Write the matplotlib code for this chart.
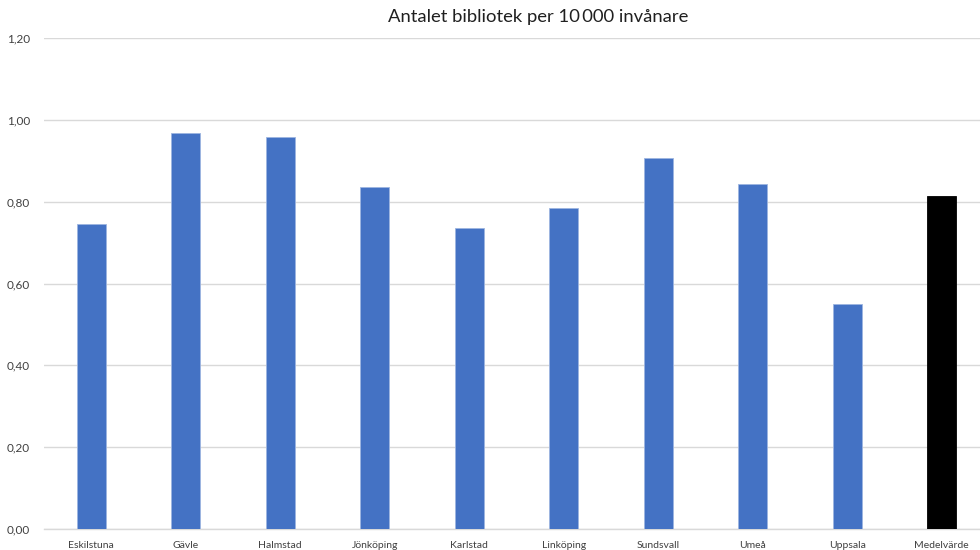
import numpy as np
from matplotlib import pyplot as plt

# data
kommuner = ["Eskilstuna", "Gävle", "Halmstad", "Jönköping", "Karlstad",
            "Linköping", "Sundsvall", "Umeå", "Uppsala", "Medelvärde"]
bibliotek_per_10k = [0.745, 0.969, 0.957, 0.836, 0.736,
                     0.785, 0.907, 0.842, 0.550, 0.815]
y_ticks = [0.0, 0.2, 0.4, 0.6, 0.8, 1.0, 1.2]
y_ticklabels = ["0,00", "0,20", "0,40", "0,60", "0,80", "1,00", "1,20"]

plt.rcParams['font.family'] = ['Lato', 'DejaVu Sans']

fig = plt.figure(figsize=(9.8, 5.5), dpi=100)
# axis runs a bit past the right edge, as in the reference
ax = fig.add_axes([44 / 980, 1 - 529 / 550, 945 / 980, 491 / 550])

colors = ["#4472C4"] * (len(kommuner) - 1) + ["#000000"]
x = np.arange(len(kommuner))
ax.bar(x, bibliotek_per_10k, width=0.31, color=colors,
       edgecolor=["#9DB5E0"] * (len(kommuner) - 1) + ["#000000"], linewidth=0.6,
       zorder=3)

ax.set_xlim(-0.5, len(kommuner) - 0.5)
ax.set_ylim(0, 1.2)
ax.set_yticks(y_ticks)
ax.set_yticklabels(y_ticklabels)
ax.set_xticks(x)
ax.set_xticklabels(kommuner)

ax.grid(axis="y", color="#D9D9D9", linewidth=1.0, zorder=0)
for side in ["top", "right", "left"]:
    ax.spines[side].set_visible(False)
ax.spines["bottom"].set_color("#D9D9D9")
ax.spines["bottom"].set_linewidth(1.0)
ax.tick_params(axis="both", length=0, labelcolor="#404040")
ax.tick_params(axis="x", pad=9, labelsize=7.5)
ax.tick_params(axis="y", pad=10, labelsize=8.5)

fig.text(0.549, 1 - 17 / 550, "Antalet bibliotek per 10\u2009000 invånare",
         ha="center", va="center", fontsize=13.3, color="#202020")

fig.savefig("out.png", dpi=100)
